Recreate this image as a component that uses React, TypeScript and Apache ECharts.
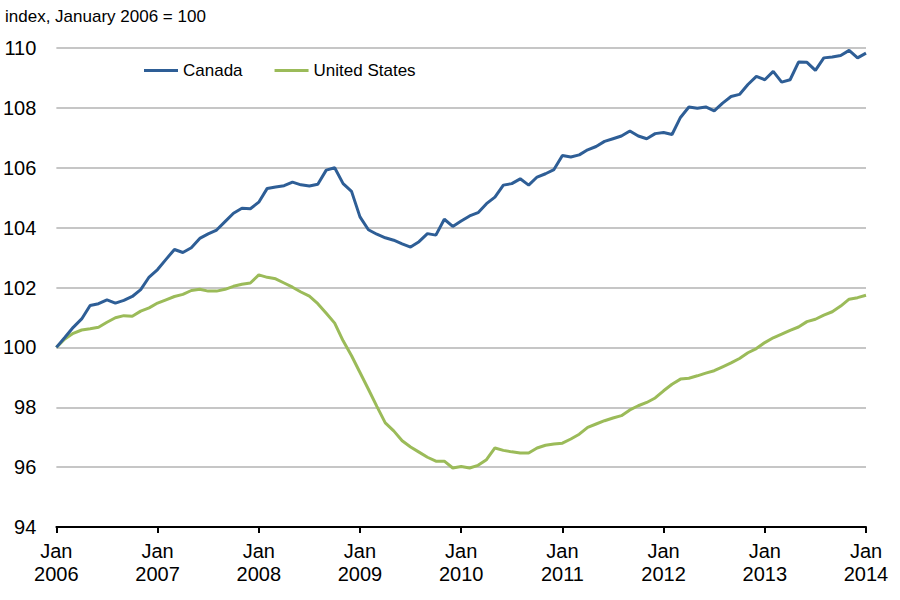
import React, { useEffect, useRef } from "react";
import * as echarts from "echarts";

const years = [2006, 2007, 2008, 2009, 2010, 2011, 2012, 2013, 2014];
const monthNames = ["Jan", "Feb", "Mar", "Apr", "May", "Jun", "Jul", "Aug", "Sep", "Oct", "Nov", "Dec"];

const canada = [
  100.0, 100.33, 100.67, 100.95, 101.4, 101.46, 101.59, 101.48, 101.57, 101.7, 101.93, 102.35,
  102.6, 102.94, 103.27, 103.17, 103.33, 103.64, 103.79, 103.92, 104.2, 104.48, 104.65, 104.63,
  104.85, 105.31, 105.36, 105.4, 105.52, 105.43, 105.39, 105.45, 105.92, 106.0, 105.47, 105.21,
  104.36, 103.93, 103.78, 103.66, 103.58, 103.46, 103.35, 103.53, 103.8, 103.75, 104.28, 104.04,
  104.22, 104.39, 104.5, 104.8, 105.02, 105.42, 105.47, 105.63, 105.42, 105.69, 105.8, 105.94,
  106.41, 106.36, 106.43, 106.6, 106.71, 106.88, 106.97, 107.06, 107.23, 107.06, 106.97, 107.14,
  107.18, 107.11, 107.68, 108.03, 107.99, 108.03, 107.9, 108.16, 108.38, 108.45, 108.78, 109.05,
  108.94, 109.22, 108.86, 108.94, 109.53, 109.52, 109.25, 109.67, 109.7, 109.75, 109.92, 109.67,
  109.83,
];

const unitedStates = [
  100.0, 100.28, 100.47, 100.58, 100.62, 100.67, 100.84, 100.99, 101.06, 101.04, 101.21, 101.32,
  101.48, 101.59, 101.7, 101.77, 101.9, 101.94, 101.88, 101.88, 101.94, 102.04, 102.11, 102.15,
  102.42, 102.34, 102.29, 102.15, 102.01, 101.85, 101.71, 101.46, 101.14, 100.81, 100.22, 99.72,
  99.16, 98.6, 98.03, 97.48, 97.21, 96.88, 96.67, 96.5, 96.33, 96.2, 96.2, 95.97,
  96.02, 95.97, 96.06, 96.25, 96.64, 96.56, 96.51, 96.47, 96.47, 96.64, 96.73, 96.77,
  96.8, 96.94, 97.1, 97.33, 97.44, 97.55, 97.64, 97.72, 97.91, 98.05, 98.16, 98.31,
  98.55, 98.77, 98.94, 98.97, 99.05, 99.14, 99.22, 99.35, 99.48, 99.63, 99.82, 99.96,
  100.16, 100.32, 100.44, 100.57, 100.68, 100.86, 100.94, 101.08, 101.19, 101.38, 101.61, 101.66,
  101.74,
];

const tickLabels = ["Jan\n2006", "Jan\n2007", "Jan\n2008", "Jan\n2009", "Jan\n2010", "Jan\n2011", "Jan\n2012", "Jan\n2013", "Jan\n2014"];

const categories: string[] = [];
years.forEach((y) => {
  monthNames.forEach((m) => {
    if (y < 2014 || m === "Jan") categories.push(m + " " + y);
  });
});

const seriesNames = ["Canada", "United States"];
const colors = ["#2E5E96", "#9BBB59"];

export default function App() {
  const ref = useRef<HTMLDivElement>(null);
  useEffect(() => {
    if (!ref.current) return;
    const chart = echarts.init(ref.current, undefined, { renderer: "svg" });
    const font = "'Liberation Sans', Arial, sans-serif";
    chart.setOption({
      animation: false,
      backgroundColor: "#ffffff",
      title: {
        text: "index, January 2006 = 100",
        left: 0,
        top: 3,
        textStyle: { fontFamily: font, fontSize: 17, fontWeight: "normal", color: "#000" },
      },
      legend: {
        left: 139,
        top: 57,
        itemWidth: 34,
        itemHeight: 3,
        itemGap: 32,
        icon: "rect",
        textStyle: { fontFamily: font, fontSize: 17, color: "#000" },
        data: seriesNames,
      },
      grid: { left: 56, right: 34, top: 48, bottom: 73, containLabel: false },
      xAxis: {
        type: "category",
        data: categories,
        boundaryGap: false,
        axisLine: { show: true, lineStyle: { color: "#000", width: 2 } },
        axisTick: {
          show: true,
          interval: (i: number) => i % 12 === 0,
          length: 6,
          lineStyle: { color: "#000", width: 2 },
        },
        axisLabel: {
          interval: (i: number) => i % 12 === 0,
          formatter: (_v: string, i: number) => tickLabels[Math.floor(i / 12)],
          fontFamily: font,
          fontSize: 20,
          lineHeight: 23,
          color: "#000",
          margin: 12,
          showMaxLabel: true,
          hideOverlap: false,
        },
        splitLine: { show: false },
      },
      yAxis: {
        type: "value",
        min: 94,
        max: 110,
        interval: 2,
        axisLine: { show: false },
        axisTick: { show: false },
        axisLabel: { fontFamily: font, fontSize: 20, color: "#000", margin: 20 },
        splitLine: { show: true, lineStyle: { color: "#B3B3B3", width: 1.5 } },
      },
      series: [
        {
          name: seriesNames[0],
          type: "line",
          data: canada,
          showSymbol: false,
          symbol: "none",
          lineStyle: { color: colors[0], width: 3 },
          itemStyle: { color: colors[0] },
          z: 3,
        },
        {
          name: seriesNames[1],
          type: "line",
          data: unitedStates,
          showSymbol: false,
          symbol: "none",
          lineStyle: { color: colors[1], width: 3 },
          itemStyle: { color: colors[1] },
          z: 2,
        },
      ],
    });
    return () => chart.dispose();
  }, []);
  return (
    <div
      ref={ref}
      style={{ position: "fixed", left: 0, top: 0, width: 900, height: 600, background: "#fff" }}
    />
  );
}
